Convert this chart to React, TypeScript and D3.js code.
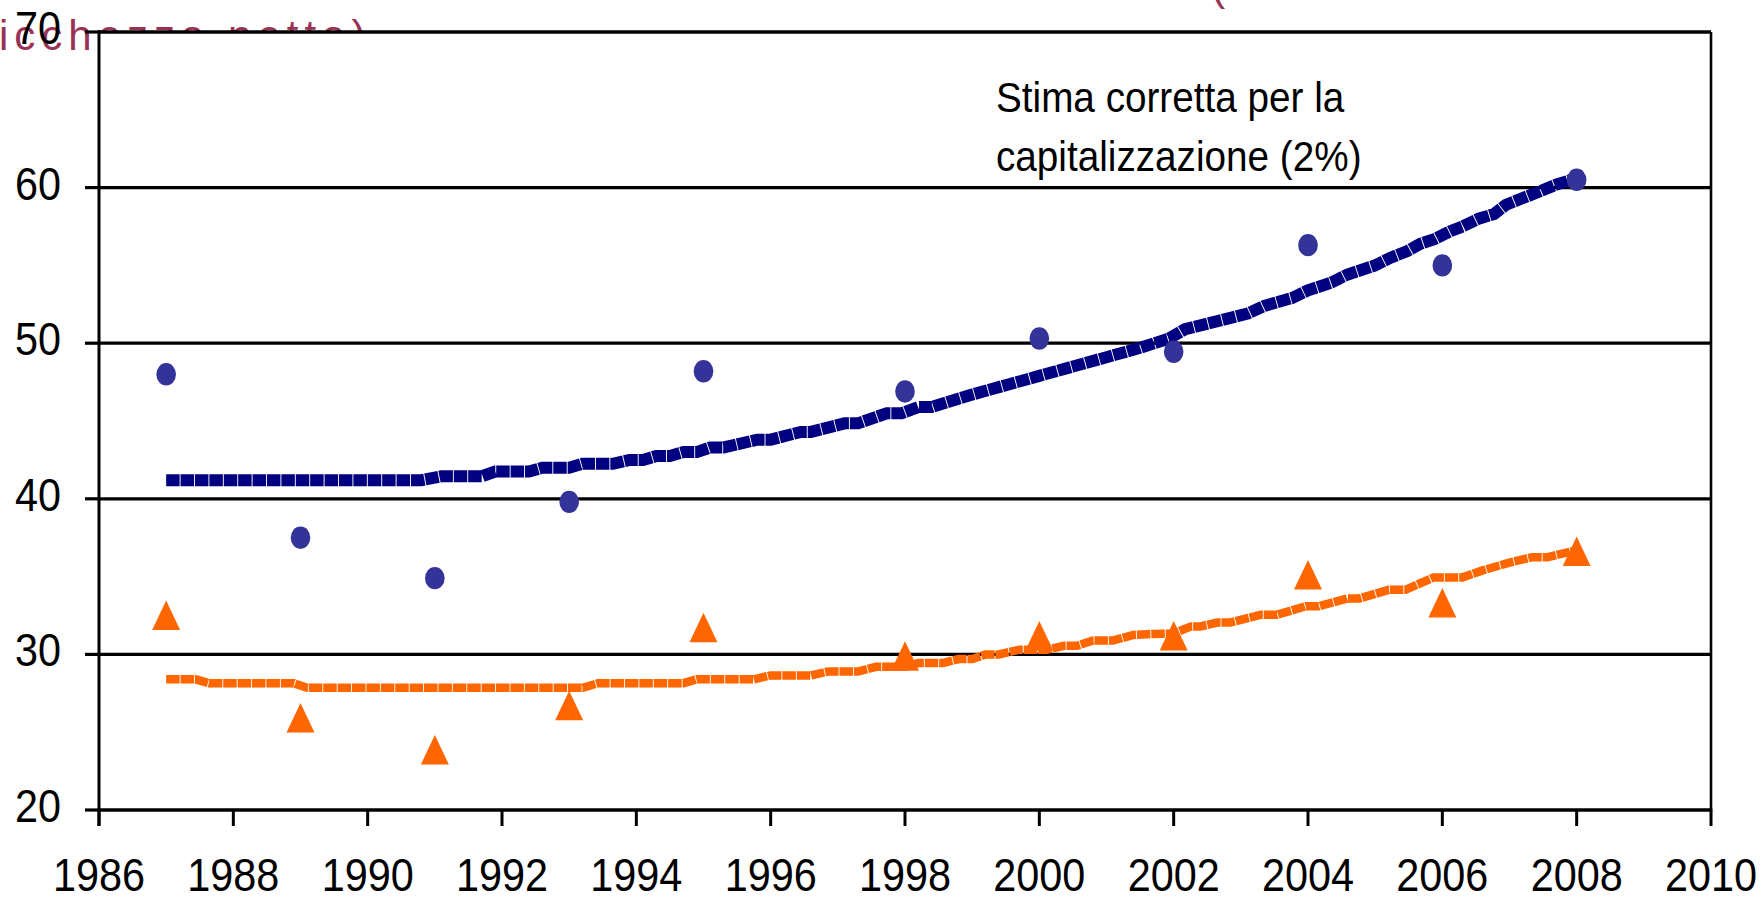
import React from "react";
import * as d3 from "d3";

// ---------- data ----------
const surveyYears = [1987, 1989, 1991, 1993, 1995, 1998, 2000, 2002, 2004, 2006, 2008];
const seriesA = [48.0, 37.5, 34.9, 39.8, 48.2, 46.9, 50.3, 49.45, 56.3, 55.0, 60.5];
const seriesB = [32.4, 25.8, 23.75, 26.6, 31.6, 29.77, 31.07, 31.07, 35.0, 33.2, 36.5];

const trendAYears = [
  1987.0, 1990.8, 1991.1, 1991.7, 1991.9, 1992.4, 1992.6, 1993.0, 1993.2, 1993.65,
  1993.9, 1994.1, 1994.3, 1994.5, 1994.7, 1994.9, 1995.1, 1995.3, 1995.8, 1996.0,
  1996.45, 1996.6, 1997.1, 1997.3, 1997.73, 1997.95, 1998.2, 1998.4, 1999.0, 1999.5,
  2000.0, 2000.5, 2001.0, 2001.5, 2001.93, 2002.17, 2003.1, 2003.35, 2003.76, 2004.0,
  2004.35, 2004.58, 2005.0, 2005.23, 2005.47, 2005.68, 2005.89, 2006.12, 2006.3, 2006.54,
  2006.77, 2006.95, 2007.18, 2007.42, 2007.7, 2008.0,
];
const trendAValues = [
  41.2, 41.2, 41.45, 41.45, 41.75, 41.75, 42.0, 42.0, 42.25, 42.25,
  42.5, 42.5, 42.75, 42.75, 43.0, 43.0, 43.3, 43.3, 43.8, 43.8,
  44.3, 44.3, 44.85, 44.85, 45.5, 45.5, 45.9, 45.9, 46.7, 47.3,
  47.9, 48.5, 49.1, 49.7, 50.3, 50.9, 51.9, 52.4, 52.9, 53.4,
  53.9, 54.4, 55.0, 55.5, 55.9, 56.4, 56.7, 57.2, 57.5, 58.0,
  58.3, 58.9, 59.3, 59.7, 60.2, 60.6,
];

const trendBYears = [
  1987.0, 1987.44, 1987.64, 1988.9, 1989.1, 1993.2, 1993.43, 1994.7, 1994.9, 1995.75,
  1996.0, 1996.6, 1996.85, 1997.3, 1997.57, 1998.0, 1998.2, 1998.57, 1998.8, 1999.0,
  1999.2, 1999.4, 1999.7, 2000.1, 2000.37, 2000.56, 2000.8, 2001.1, 2001.4, 2001.6,
  2002.0, 2002.26, 2002.4, 2002.65, 2002.84, 2003.3, 2003.54, 2003.97, 2004.16, 2004.59,
  2004.77, 2005.2, 2005.45, 2005.87, 2006.3, 2006.6, 2007.0, 2007.34, 2007.57, 2008.0,
];
const trendBValues = [
  28.4, 28.4, 28.15, 28.15, 27.85, 27.85, 28.15, 28.15, 28.4, 28.4,
  28.65, 28.65, 28.9, 28.9, 29.2, 29.2, 29.45, 29.45, 29.7, 29.7,
  30.0, 30.0, 30.3, 30.3, 30.55, 30.55, 30.9, 30.9, 31.25, 31.3,
  31.35, 31.8, 31.8, 32.05, 32.05, 32.55, 32.55, 33.1, 33.1, 33.6,
  33.6, 34.15, 34.15, 34.95, 34.95, 35.4, 35.9, 36.25, 36.25, 36.7,
];

const xTicks = [1986, 1988, 1990, 1992, 1994, 1996, 1998, 2000, 2002, 2004, 2006, 2008, 2010];
const yTicks = [20, 30, 40, 50, 60, 70];
const gridValues = [30, 40, 50, 60];

const titleLine1 = "Ricchezza detenuta dal 10% della distribuzione alta (in % della";
const titleLine2 = "ricchezza netta)";
const noteLines = ["Stima corretta per la", "capitalizzazione (2%)"];

// ---------- layout ----------
const W = 1763;
const H = 901;
const X0 = 99;
const X1 = 1711;
const Y0 = 32;
const Y1 = 810;

const FONT = "'Liberation Sans', Arial, Helvetica, sans-serif";

export default function App() {
  const x = d3.scaleLinear().domain([1986, 2010]).range([X0, X1]);
  const y = d3.scaleLinear().domain([20, 70]).range([Y1, Y0]);

  const lineGen = d3
    .line<[number, number]>()
    .x((d) => x(d[0]))
    .y((d) => y(d[1]));

  const trendA = lineGen(trendAYears.map((t, i) => [t, trendAValues[i]] as [number, number])) || "";
  const trendB = lineGen(trendBYears.map((t, i) => [t, trendBValues[i]] as [number, number])) || "";

  const tri = d3.symbol().type(d3.symbolTriangle).size(360);

  return (
    <svg
      width={W}
      height={H}
      viewBox={`0 0 ${W} ${H}`}
      style={{ position: "absolute", left: 0, top: 0, background: "#fff", overflow: "hidden" }}
    >
      <rect x={0} y={0} width={W} height={H} fill="#fff" />
      {/* title, partly hidden behind the plot area */}
      <g fill="#993355" fontFamily={FONT} fontSize={42}>
        <text x={-20} y={-0.3} letterSpacing={5}>{titleLine1}</text>
        <text x={-21} y={50} letterSpacing={6}>{titleLine2}</text>
      </g>

      {/* plot area */}
      <rect x={X0} y={Y0} width={X1 - X0} height={Y1 - Y0} fill="#fff" />

      {/* grid */}
      {gridValues.map((v) => (
        <line key={v} x1={X0} x2={X1} y1={y(v)} y2={y(v)} stroke="#000" strokeWidth={3.2} />
      ))}

      {/* frame */}
      <line x1={X0} x2={X1} y1={Y0} y2={Y0} stroke="#000" strokeWidth={3.6} />
      <line x1={X1} x2={X1} y1={Y0} y2={Y1} stroke="#000" strokeWidth={2.6} />
      <line x1={X0 - 1.5} x2={X1 + 1.3} y1={Y1} y2={Y1} stroke="#000" strokeWidth={3.6} />
      <line x1={X0} x2={X0} y1={Y0 - 1.8} y2={Y1 + 16} stroke="#000" strokeWidth={3} />

      {/* ticks */}
      {xTicks.map((t) => (
        <line key={t} x1={x(t)} x2={x(t)} y1={Y1} y2={Y1 + 16} stroke="#000" strokeWidth={3} />
      ))}
      {yTicks.map((t) => (
        <line key={t} x1={X0 - 14} x2={X0} y1={y(t)} y2={y(t)} stroke="#000" strokeWidth={3.2} />
      ))}

      {/* trend lines */}
      <path d={trendA} fill="none" stroke="#000080" strokeWidth={12} strokeDasharray="13.5 0.9" />
      <path d={trendB} fill="none" stroke="#FF6600" strokeWidth={8.5} strokeDasharray="13.5 0.9" />

      {/* markers */}
      {surveyYears.map((t, i) => (
        <ellipse key={"a" + t} cx={x(t)} cy={y(seriesA[i])} rx={9.8} ry={11.2} fill="#333399" />
      ))}
      {surveyYears.map((t, i) => (
        <path
          key={"b" + t}
          d={tri() || ""}
          transform={`translate(${x(t)},${y(seriesB[i]) + 3}) scale(0.97,1.18)`}
          fill="#FF6600"
        />
      ))}

      {/* y labels */}
      <g fontFamily={FONT} fontSize={47} fill="#000">
        {yTicks.map((t) => (
          <text key={t} transform={`translate(61,${y(t) + 12}) scale(0.88,1)`} textAnchor="end">
            {t}
          </text>
        ))}
      </g>

      {/* x labels */}
      <g fontFamily={FONT} fontSize={46} fill="#000">
        {xTicks.map((t) => (
          <text key={t} transform={`translate(${x(t)},891) scale(0.9,1)`} textAnchor="middle">
            {t}
          </text>
        ))}
      </g>

      {/* annotation */}
      <g fontFamily={FONT} fontSize={43} fill="#000">
        {noteLines.map((s, i) => (
          <text key={i} transform={`translate(996,${112 + i * 59}) scale(0.9,1)`}>
            {s}
          </text>
        ))}
      </g>
    </svg>
  );
}
